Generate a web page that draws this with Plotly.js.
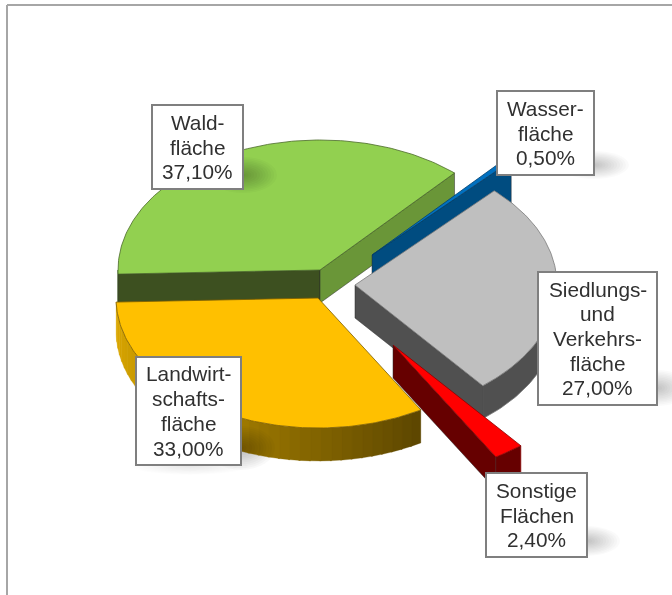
<!DOCTYPE html>
<html>
<head>
<meta charset="utf-8">
<script src="https://cdn.plot.ly/plotly-3.0.1.min.js"></script>
<style>html,body{margin:0;padding:0;background:#fff}#chart{width:672px;height:595px;filter:blur(0.4px)}</style>
</head>
<body>
<div id="chart"></div>
<script>
// ---- Data ----
var categories = ["Waldfläche", "Wasserfläche", "Siedlungs- und Verkehrsfläche", "Sonstige Flächen", "Landwirtschaftsfläche"];
var shares = [37.1, 0.5, 27.0, 2.4, 33.0];
var labelLines = [
  ["Wald-", "fläche", "37,10%"],
  ["Wasser-", "fläche", "0,50%"],
  ["Siedlungs-", "und", "Verkehrs-", "fläche", "27,00%"],
  ["Sonstige", "Flächen", "2,40%"],
  ["Landwirt-", "schafts-", "fläche", "33,00%"]
];

// ---- Styles ----
var topColors = ["#92D050", "#0070C0", "#BFBFBF", "#FF0000", "#FFC000"];
var cutColors = ["#3D5020", "#004C80", "#505050", "#660000", "#5E4700"];
var lowCutColors = ["#6A9638", "#004C80", "#505050", "#660000", "#5E4700"];
var edgeColors = ["#4A6A28", "#00406E", "#7A7A7A", "#8A0000", "#7A5C00"];
var sideStops = [
  null, null, null, null,
  [[0, [222,170,0]], [0.45, [176,134,0]], [0.68, [138,106,0]], [1, [92,70,0]]]
];

// ---- Layout of the exploded, tilted pie (pixels on the axes) ----
var tips = [[320,270], [372,255], [355,285], [393,345], [318,298]];
var depths = [33, 42, 33, 33, 33];
var radiusX = 202, radiusY = 130, startAngle = 181.8;
var drawOrder = [0, 4, 1, 2, 3];
var boxes = [
  [152,243,105,189], [497,594,91,175], [538,657,272,405], [486,587,473,557], [136,241,357,465]
];
var linePitch = 24.7;
var shadowSpots = [
  [243,175,34,18,0.022], [594,165,35,14,0.02], [657,388,32,18,0.02], [587,541,33,15,0.02], [241,448,34,22,0.022], [190,466,58,9,0.008]
];

function rim(tip, deg) {
  var a = deg * Math.PI / 180;
  return [tip[0] + radiusX * Math.cos(a), tip[1] - radiusY * Math.sin(a)];
}
function arc(tip, from, to) {
  var n = Math.max(2, Math.ceil(Math.abs(from - to))), pts = [];
  for (var i = 0; i <= n; i++) pts.push(rim(tip, from + (to - from) * i / n));
  return pts;
}
function poly(pts, fill, line, name, w) {
  return {
    type: "scatter", mode: "lines", fill: "toself", name: name,
    x: pts.map(function (p) { return p[0]; }).concat([pts[0][0]]),
    y: pts.map(function (p) { return p[1]; }).concat([pts[0][1]]),
    fillcolor: fill, line: {color: line, width: w === undefined ? 0.8 : w},
    hoverinfo: "skip", showlegend: false
  };
}
function down(pts, d) { return pts.map(function (p) { return [p[0], p[1] + d]; }); }
function mix(stops, t) {
  for (var i = 1; i < stops.length; i++) {
    if (t <= stops[i][0]) {
      var a = stops[i-1], b = stops[i], f = (t - a[0]) / (b[0] - a[0]);
      return "rgb(" + a[1].map(function (c, k) { return Math.round(c + (b[1][k] - c) * f); }).join(",") + ")";
    }
  }
  return "rgb(" + stops[stops.length-1][1].join(",") + ")";
}

// ---- Angular extents from the shares ----
var ranges = [], cursor = startAngle;
shares.forEach(function (s) { var next = cursor - s * 3.6; ranges.push([cursor, next]); cursor = next; });

var traces = [];
drawOrder.forEach(function (i) {
  var tip = tips[i], d = depths[i], high = ranges[i][0], low = ranges[i][1], name = categories[i];
  // outer wall: only the part of the rim on the viewer's side
  var hiN = ((high % 360) + 360) % 360, loN = hiN - (high - low);
  var visFrom = Math.min(hiN, 360), visTo = Math.max(loN, 180);
  if (hiN <= 180 && loN < 0) { visFrom = Math.min(hiN + 360, 360); visTo = Math.max(loN + 360, 180); }
  if (visFrom > visTo) {
    if (sideStops[i]) {
      var segs = 40;
      for (var k = 0; k < segs; k++) {
        var a1 = visFrom + (visTo - visFrom) * k / segs, a2 = visFrom + (visTo - visFrom) * (k + 1.15) / segs;
        if (k === segs - 1) a2 = visTo;
        // the rim is walked from its right end; the stops run from its left end
        var c = mix(sideStops[i], 1 - (k + 0.5) / segs);
        var seg = arc(tip, a1, a2);
        traces.push(poly(seg.concat(down(seg, d).reverse()), c, c, name + " Rand", 0.3));
      }
    } else {
      var wall = arc(tip, visFrom, visTo);
      traces.push(poly(wall.concat(down(wall, d).reverse()), cutColors[i], edgeColors[i], name + " Rand"));
    }
  }
  // straight cut walls that face the viewer
  if (Math.sin((high + 90) * Math.PI / 180) < 0) {
    var p = rim(tip, high);
    traces.push(poly([tip, p, [p[0], p[1] + d], [tip[0], tip[1] + d]], cutColors[i], "#2A2A2A", name + " Schnitt", 0.5));
  }
  if (Math.sin((low - 90) * Math.PI / 180) < 0) {
    var q = rim(tip, low);
    traces.push(poly([tip, q, [q[0], q[1] + d], [tip[0], tip[1] + d]], lowCutColors[i], "#2A2A2A", name + " Schnitt", 0.5));
  }
  // top face
  traces.push(poly([tip].concat(arc(tip, high, low)), topColors[i], edgeColors[i], name));
});

// ---- Soft shadows as stacked translucent ellipses ----
var shapes = [];
shadowSpots.forEach(function (s) {
  for (var k = 1; k <= 12; k++) {
    var f = k / 12;
    shapes.push({type: "circle", xref: "x", yref: "y", layer: "above",
      x0: s[0] - s[2] * f, x1: s[0] + s[2] * f, y0: s[1] - s[3] * f, y1: s[1] + s[3] * f,
      fillcolor: "rgba(0,0,0," + s[4] + ")", line: {width: 0}});
  }
});
// white label boxes, above the shadows
boxes.forEach(function (b) {
  shapes.push({type: "rect", xref: "x", yref: "y", layer: "above",
    x0: b[0], x1: b[1], y0: b[2], y1: b[3],
    fillcolor: "#FFFFFF", line: {color: "#7F7F7F", width: 2}});
});
// outer frame of the screenshot: top and left only
shapes.push({type: "line", xref: "x", yref: "y", x0: 7, x1: 672, y0: 5, y1: 5, line: {color: "#A6A6A6", width: 2}});
shapes.push({type: "line", xref: "x", yref: "y", x0: 7, x1: 7, y0: 5, y1: 595, line: {color: "#A6A6A6", width: 2}});

var annotations = [];
labelLines.forEach(function (lines, i) {
  var b = boxes[i], cy = (b[2] + b[3]) / 2;
  lines.forEach(function (line, n) {
    annotations.push({
      xref: "x", yref: "y", x: (b[0] + b[1]) / 2, y: cy + (n - (lines.length - 1) / 2) * linePitch,
      xanchor: "center", yanchor: "middle", showarrow: false, text: line,
      font: {family: "Liberation Sans, Arial, sans-serif", size: 20.8, color: "#303030"}
    });
  });
});

Plotly.newPlot("chart", traces, {
  width: 672, height: 595,
  margin: {l: 0, r: 0, t: 0, b: 0},
  paper_bgcolor: "#FFFFFF", plot_bgcolor: "#FFFFFF",
  xaxis: {range: [0, 672], visible: false, fixedrange: true},
  yaxis: {range: [595, 0], visible: false, fixedrange: true},
  showlegend: false, shapes: shapes, annotations: annotations
}, {displayModeBar: false, staticPlot: true});
</script>
</body>
</html>
